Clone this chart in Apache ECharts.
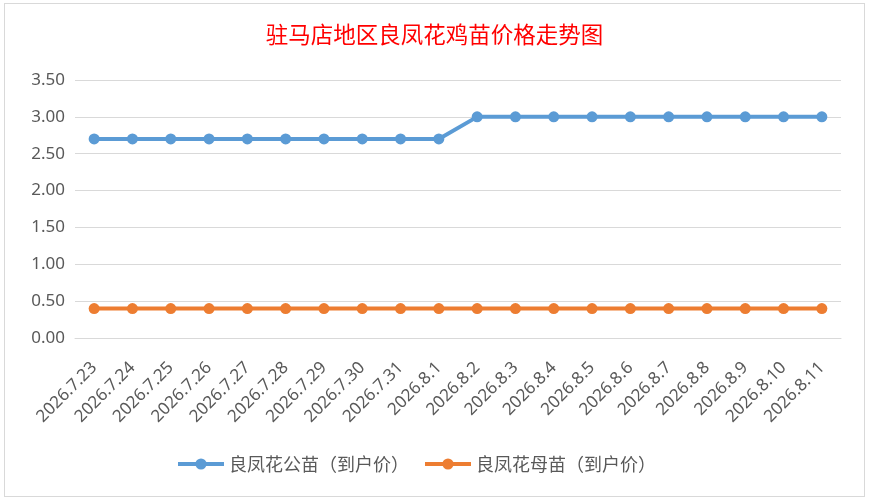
<!DOCTYPE html>
<html>
<head>
<meta charset="utf-8">
<script src="https://cdn.jsdelivr.net/npm/echarts@6/dist/echarts.min.js"></script>
<style>
html, body { margin: 0; padding: 0; background: #fff; }
#main { position: absolute; left: 4px; top: 3px; width: 861px; height: 494px; border: 1px solid #D9D9D9; box-sizing: border-box; }
</style>
</head>
<body>
<div id="main"></div>
<script>
var titleText = '驻马店地区良凤花鸡苗价格走势图';
var dates = ['2026.7.23', '2026.7.24', '2026.7.25', '2026.7.26', '2026.7.27', '2026.7.28', '2026.7.29',
    '2026.7.30', '2026.7.31', '2026.8.1', '2026.8.2', '2026.8.3', '2026.8.4', '2026.8.5', '2026.8.6',
    '2026.8.7', '2026.8.8', '2026.8.9', '2026.8.10', '2026.8.11'];
var maleName = '良凤花公苗（到户价）';
var femaleName = '良凤花母苗（到户价）';
var maleValues = [2.7, 2.7, 2.7, 2.7, 2.7, 2.7, 2.7, 2.7, 2.7, 2.7,
    3.0, 3.0, 3.0, 3.0, 3.0, 3.0, 3.0, 3.0, 3.0, 3.0];
var femaleValues = [0.4, 0.4, 0.4, 0.4, 0.4, 0.4, 0.4, 0.4, 0.4, 0.4,
    0.4, 0.4, 0.4, 0.4, 0.4, 0.4, 0.4, 0.4, 0.4, 0.4];

var myChart = echarts.init(document.getElementById('main'));
var option = {
    animation: false,
    title: {
        text: titleText,
        left: 'center',
        top: 14,
        textStyle: {color: '#FF0000', fontSize: 22.5, fontWeight: 'normal', fontFamily: 'Noto Sans CJK SC'}
    },
    legend: {
        bottom: 18,
        left: 166,
        itemWidth: 46,
        itemHeight: 14,
        itemGap: 14,
        lineStyle: {width: 4},
        textStyle: {color: '#595959', fontSize: 18, fontFamily: 'Noto Sans CJK SC'},
        data: [maleName, femaleName]
    },
    grid: {left: 70, right: 23, top: 76, bottom: 158},
    xAxis: {
        type: 'category',
        data: dates,
        boundaryGap: true,
        axisLine: {lineStyle: {color: '#D9D9D9'}},
        axisTick: {show: false},
        axisLabel: {rotate: 45, color: '#595959', fontSize: 17, fontFamily: 'Noto Sans', interval: 0, margin: 27}
    },
    yAxis: {
        type: 'value',
        min: 0,
        max: 3.5,
        interval: 0.5,
        axisLine: {show: false},
        axisTick: {show: false},
        splitLine: {lineStyle: {color: '#D9D9D9', width: 1}},
        axisLabel: {
            color: '#595959', fontSize: 17, fontFamily: 'Noto Sans', margin: 10,
            formatter: function (v) { return v.toFixed(2); }
        }
    },
    series: [
        {
            name: maleName,
            type: 'line',
            data: maleValues,
            symbol: 'circle',
            symbolSize: 11,
            lineStyle: {width: 4, color: '#5B9BD5'},
            itemStyle: {color: '#5B9BD5'}
        },
        {
            name: femaleName,
            type: 'line',
            data: femaleValues,
            symbol: 'circle',
            symbolSize: 11,
            lineStyle: {width: 4, color: '#ED7D31'},
            itemStyle: {color: '#ED7D31'}
        }
    ]
};
myChart.setOption(option);
</script>
</body>
</html>
